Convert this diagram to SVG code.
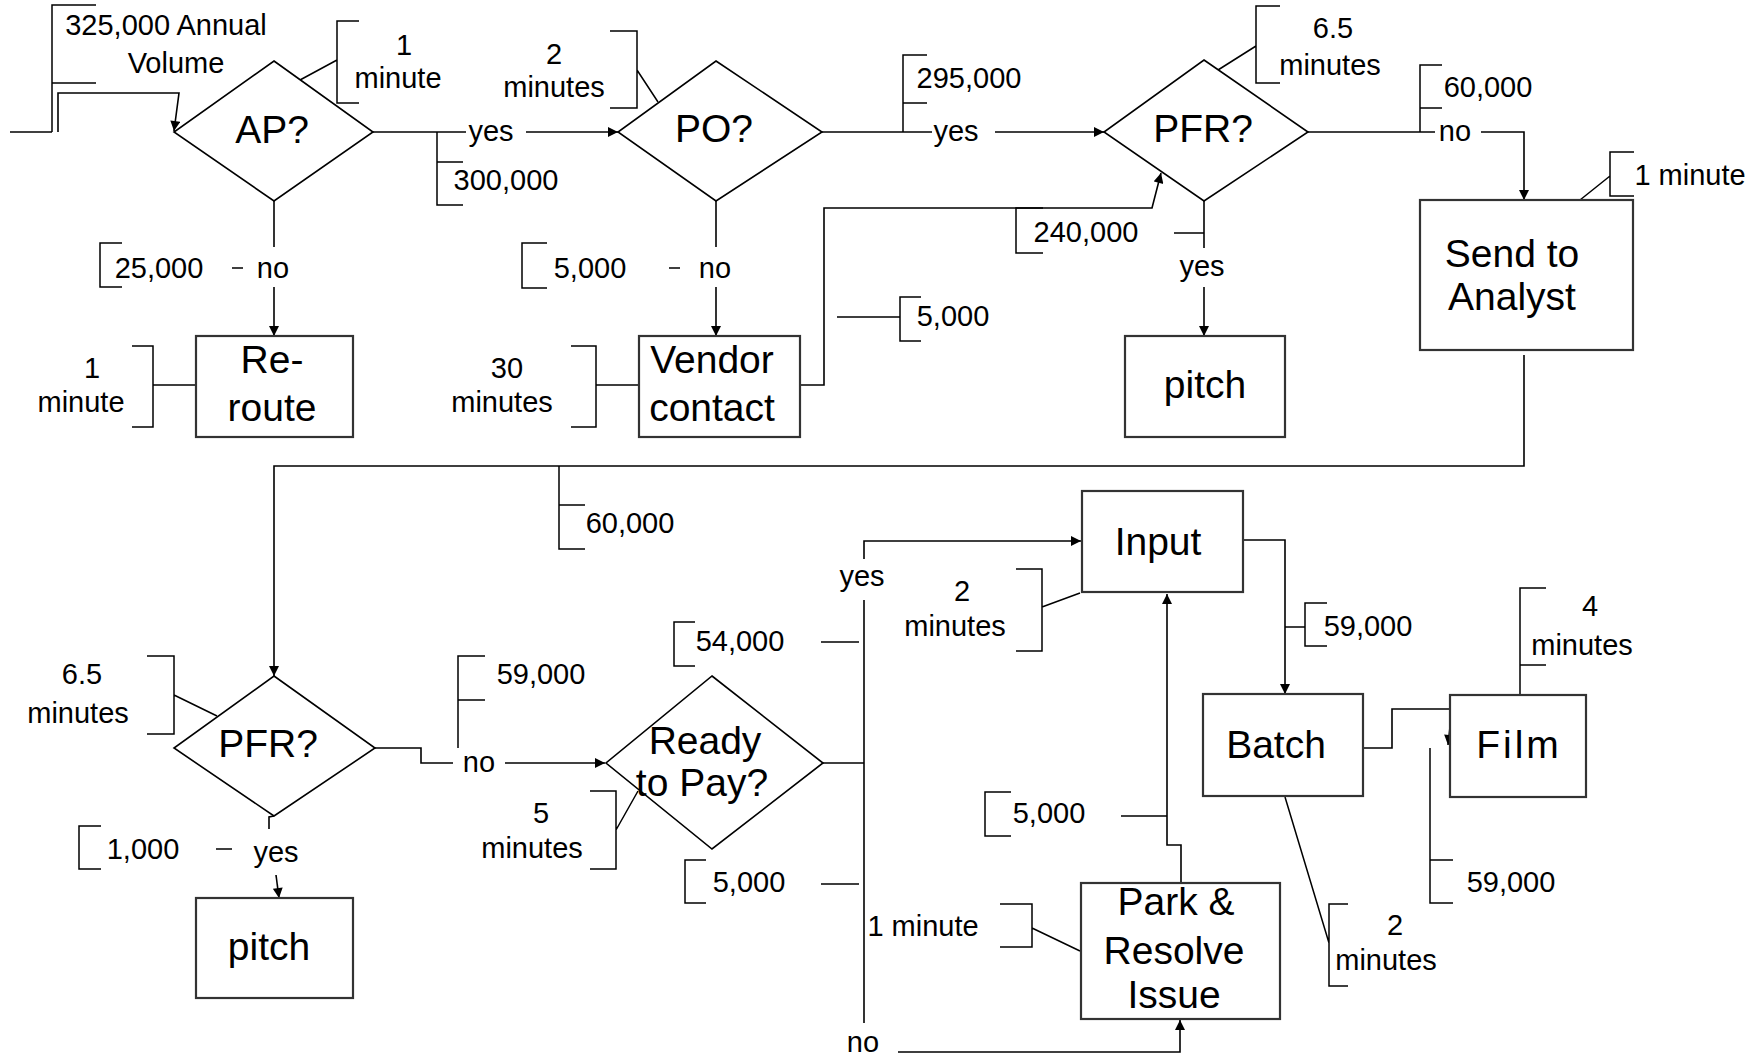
<svg xmlns="http://www.w3.org/2000/svg" width="1754" height="1060" viewBox="0 0 1754 1060">
<style>
text{font-family:"Liberation Sans",Arial,sans-serif;fill:#000;text-anchor:middle}
.s{font-size:29px}
.b{font-size:39px}
.ln{fill:none;stroke:#000;stroke-width:1.6}
.br{fill:none;stroke:#000;stroke-width:1.5}
.box{fill:#fff;stroke:#333;stroke-width:2.2}
.dia{fill:#fff;stroke:#000;stroke-width:1.6}
</style>
<defs>
<marker id="arr" viewBox="0 0 10 10" refX="10" refY="5" markerWidth="12" markerHeight="10" markerUnits="userSpaceOnUse" orient="auto">
<path d="M0,0 L10,5 L0,10 z" fill="#000"/>
</marker>
</defs>
<rect width="1754" height="1060" fill="#fff"/>

<g id="connectors">
<path class="ln" d="M10,132 H52"/>
<path class="ln" d="M58,132 V93 H179 L174,131" marker-end="url(#arr)"/>
<path class="ln" d="M373,132 H466"/>
<path class="ln" d="M526,132 H618" marker-end="url(#arr)"/>
<path class="ln" d="M274,201 V247"/>
<path class="ln" d="M274,287 V336" marker-end="url(#arr)"/>
<path class="ln" d="M822,132 H932"/>
<path class="ln" d="M995,132 H1104" marker-end="url(#arr)"/>
<path class="ln" d="M716,201 V247"/>
<path class="ln" d="M716,287 V336" marker-end="url(#arr)"/>
<path class="ln" d="M800,385 H824 V208 H1152 L1161,173" marker-end="url(#arr)"/>
<path class="ln" d="M1308,132 H1435"/>
<path class="ln" d="M1481,132 H1524 V200" marker-end="url(#arr)"/>
<path class="ln" d="M1204,201 V248"/>
<path class="ln" d="M1204,287 V336" marker-end="url(#arr)"/>
<path class="ln" d="M1524,355 V466 H274 V676" marker-end="url(#arr)"/>
<path class="ln" d="M374,748 H421 V763 H453"/>
<path class="ln" d="M505,763 H605" marker-end="url(#arr)"/>
<path class="ln" d="M274,816 L269,817 V829"/>
<path class="ln" d="M276,875 L279,898" marker-end="url(#arr)"/>
<path class="ln" d="M822,763 H864"/>
<path class="ln" d="M864,559 V541 H1081" marker-end="url(#arr)"/>
<path class="ln" d="M864,600 V1023"/>
<path class="ln" d="M898,1052 H1180 V1020" marker-end="url(#arr)"/>
<path class="ln" d="M1181,883 V845 H1167 V594" marker-end="url(#arr)"/>
<path class="ln" d="M1243,540 H1285 V694" marker-end="url(#arr)"/>
<path class="ln" d="M1345,748 H1392 V709 H1452 L1448,745" marker-end="url(#arr)"/>
<path class="br" d="M232,268 H243 M669,268 H680 M1174,233 H1204 M216,849 H232 M821,642 H859 M821,884 H859 M1121,816 H1167 M1285,627 H1305 M837,317 H900"/>
</g>

<g id="brackets">
<path class="br" d="M52,132 V5 H96 M52,83 H96"/>
<path class="br" d="M359,21 H337 V103 H359 M337,60 L300,80"/>
<path class="br" d="M437,132 V205 H463 M437,162 H463"/>
<path class="br" d="M122,243 H100 V287 H122"/>
<path class="br" d="M132,346 H153 V427 H132 M153,385 H196"/>
<path class="br" d="M610,31 H637 V108 H610 M637,70 L658,102"/>
<path class="br" d="M903,132 V55 H927 M903,103 H927"/>
<path class="br" d="M547,243 H522 V288 H547"/>
<path class="br" d="M571,346 H596 V427 H571 M596,385 H639"/>
<path class="br" d="M1043,208 H1016 V253 H1043"/>
<path class="br" d="M921,297 H900 V341 H921"/>
<path class="br" d="M1280,6 H1256 V83 H1280 M1256,46 L1218,70"/>
<path class="br" d="M1420,132 V65 H1442 M1420,108 H1442"/>
<path class="br" d="M1634,152 H1610 V196 H1634 M1610,176 L1580,200"/>
<path class="br" d="M559,466 V549 H585 M559,505 H585"/>
<path class="br" d="M147,656 H174 V734 H147 M174,695 L217,716"/>
<path class="br" d="M458,748 V656 H485 M458,700 H485"/>
<path class="br" d="M101,826 H79 V869 H101"/>
<path class="br" d="M590,791 H616 V869 H590 M616,830 L638,791"/>
<path class="br" d="M695,622 H674 V666 H695"/>
<path class="br" d="M706,860 H685 V903 H706"/>
<path class="br" d="M1016,569 H1042 V651 H1016 M1042,607 L1080,593"/>
<path class="br" d="M1000,904 H1032 V947 H1000 M1032,928 L1080,951"/>
<path class="br" d="M1011,792 H985 V836 H1011"/>
<path class="br" d="M1327,603 H1305 V646 H1327"/>
<path class="br" d="M1520,695 V588 H1546 M1520,665 H1546"/>
<path class="br" d="M1430,748 V903 H1453 M1430,860 H1453"/>
<path class="br" d="M1348,904 H1329 V986 H1348 M1285,797 L1329,943"/>
</g>

<g id="node-ap"><polygon class="dia" points="274,61 373,132 274,201 174,132"/><text class="b" x="272" y="143">AP?</text></g>
<g id="node-po"><polygon class="dia" points="716,61 822,132 716,201 618,132"/><text class="b" x="714" y="142">PO?</text></g>
<g id="node-pfr1"><polygon class="dia" points="1204,60 1308,132 1204,201 1104,132"/><text class="b" x="1203" y="142">PFR?</text></g>
<g id="node-reroute"><rect class="box" x="196" y="336" width="157" height="101"/><text class="b" x="272" y="373">Re-</text><text class="b" x="272" y="421">route</text></g>
<g id="node-vendor"><rect class="box" x="639" y="336" width="161" height="101"/><text class="b" x="712" y="373">Vendor</text><text class="b" x="712" y="421">contact</text></g>
<g id="node-pitch1"><rect class="box" x="1125" y="336" width="160" height="101"/><text class="b" x="1205" y="398">pitch</text></g>
<g id="node-send"><rect class="box" x="1420" y="200" width="213" height="150"/><text class="b" x="1512" y="267">Send to</text><text class="b" x="1512" y="310">Analyst</text></g>
<g id="node-pfr2"><polygon class="dia" points="274,676 375,748 274,816 174,748"/><text class="b" x="268" y="757">PFR?</text></g>
<g id="node-pitch2"><rect class="box" x="196" y="898" width="157" height="100"/><text class="b" x="269" y="960">pitch</text></g>
<g id="node-ready"><polygon class="dia" points="712,676 823,763 712,849 606,763"/><text class="b" x="705" y="754">Ready</text><text class="b" x="702" y="796">to Pay?</text></g>
<g id="node-input"><rect class="box" x="1082" y="491" width="161" height="101"/><text class="b" x="1158" y="555">Input</text></g>
<g id="node-batch"><rect class="box" x="1203" y="694" width="160" height="102"/><text class="b" x="1276" y="758">Batch</text></g>
<g id="node-film"><rect class="box" x="1450" y="695" width="136" height="102"/><text class="b" x="1519" y="758" letter-spacing="3">Film</text></g>
<g id="node-park"><rect class="box" x="1081" y="883" width="199" height="136"/><text class="b" x="1176" y="915">Park &amp;</text><text class="b" x="1174" y="964">Resolve</text><text class="b" x="1174" y="1008">Issue</text></g>

<g id="labels">
<text class="s" x="166" y="35">325,000 Annual</text>
<text class="s" x="176" y="73">Volume</text>
<text class="s" x="404" y="55">1</text>
<text class="s" x="398" y="88">minute</text>
<text class="s" x="491" y="141">yes</text>
<text class="s" x="506" y="190">300,000</text>
<text class="s" x="159" y="278">25,000</text>
<text class="s" x="273" y="278">no</text>
<text class="s" x="92" y="378">1</text>
<text class="s" x="81" y="412">minute</text>
<text class="s" x="554" y="64">2</text>
<text class="s" x="554" y="97">minutes</text>
<text class="s" x="590" y="278">5,000</text>
<text class="s" x="715" y="278">no</text>
<text class="s" x="507" y="378">30</text>
<text class="s" x="502" y="412">minutes</text>
<text class="s" x="969" y="88">295,000</text>
<text class="s" x="956" y="141">yes</text>
<text class="s" x="1086" y="242">240,000</text>
<text class="s" x="953" y="326">5,000</text>
<text class="s" x="1333" y="38">6.5</text>
<text class="s" x="1330" y="75">minutes</text>
<text class="s" x="1488" y="97">60,000</text>
<text class="s" x="1455" y="141">no</text>
<text class="s" x="1202" y="276">yes</text>
<text class="s" x="1690" y="185">1 minute</text>
<text class="s" x="630" y="533">60,000</text>
<text class="s" x="82" y="684">6.5</text>
<text class="s" x="78" y="723">minutes</text>
<text class="s" x="541" y="684">59,000</text>
<text class="s" x="479" y="772">no</text>
<text class="s" x="143" y="859">1,000</text>
<text class="s" x="276" y="862">yes</text>
<text class="s" x="541" y="823">5</text>
<text class="s" x="532" y="858">minutes</text>
<text class="s" x="740" y="651">54,000</text>
<text class="s" x="749" y="892">5,000</text>
<text class="s" x="862" y="586">yes</text>
<text class="s" x="863" y="1052">no</text>
<text class="s" x="962" y="601">2</text>
<text class="s" x="955" y="636">minutes</text>
<text class="s" x="923" y="936">1 minute</text>
<text class="s" x="1049" y="823">5,000</text>
<text class="s" x="1368" y="636">59,000</text>
<text class="s" x="1590" y="616">4</text>
<text class="s" x="1582" y="655">minutes</text>
<text class="s" x="1511" y="892">59,000</text>
<text class="s" x="1395" y="935">2</text>
<text class="s" x="1386" y="970">minutes</text>
</g>
</svg>
